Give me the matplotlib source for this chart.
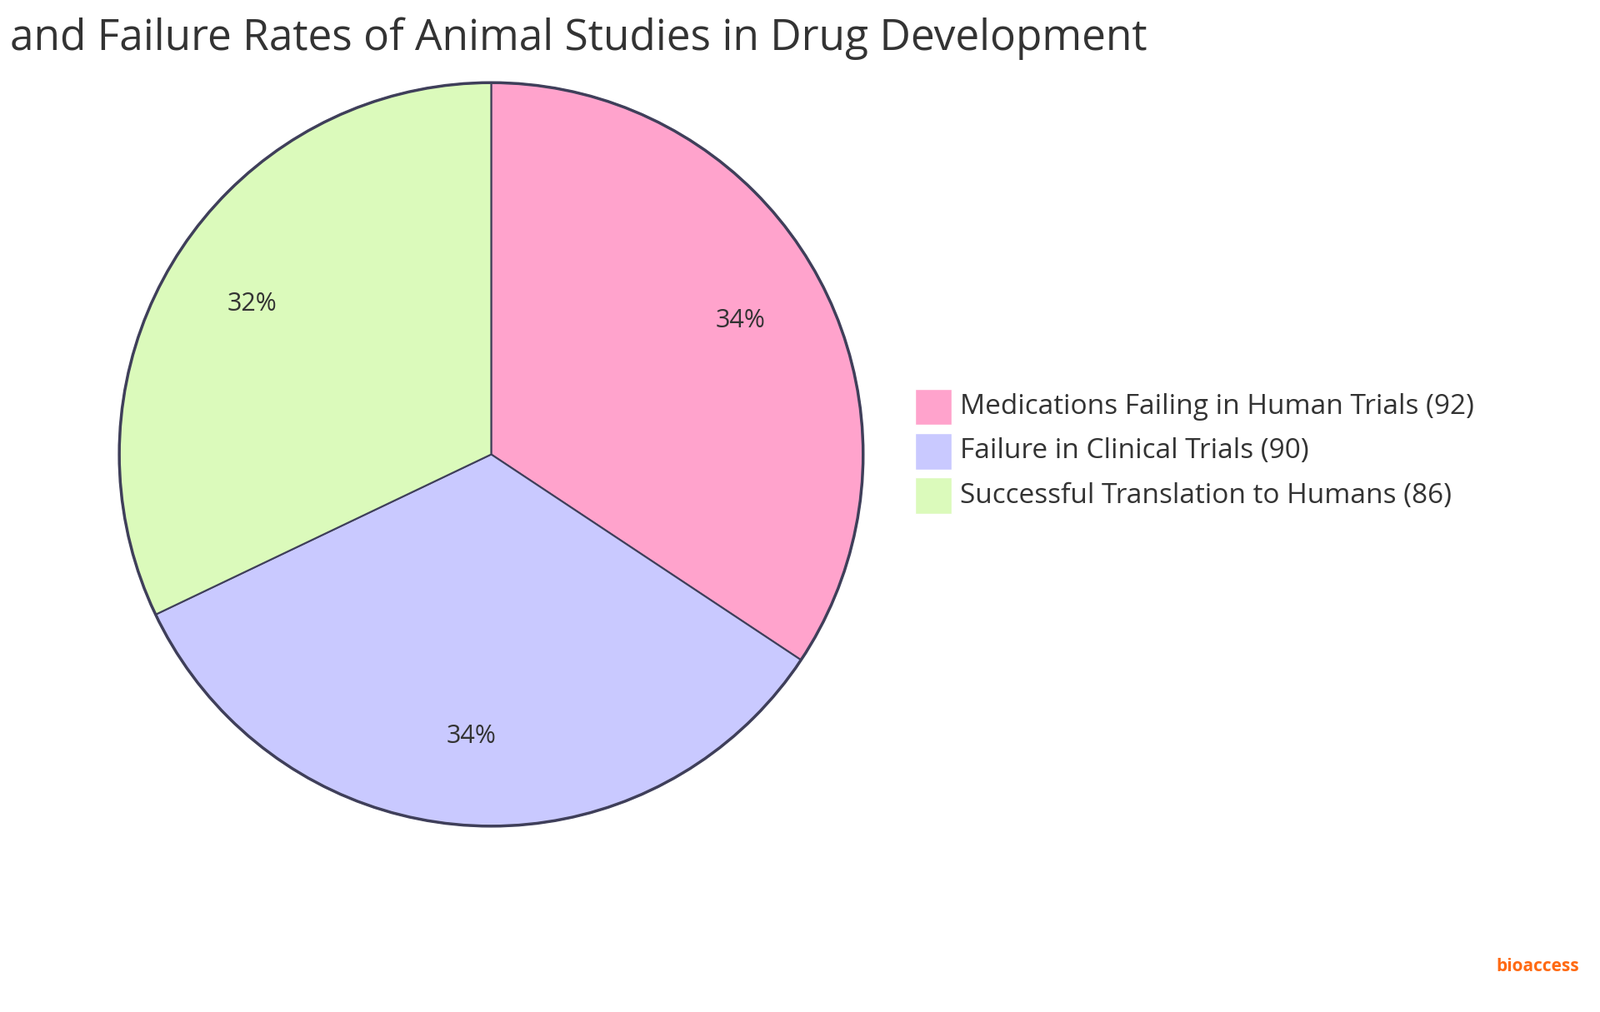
import matplotlib.pyplot as plt
from matplotlib.patches import Rectangle

plt.rcParams['font.family'] = 'Open Sans'

labels = ['Medications Failing in Human Trials', 'Failure in Clinical Trials',
          'Successful Translation to Humans']
values = [92, 90, 86]
colors = ['#ffa3cc', '#c9c9ff', '#dbfabb']
edge = '#3f3f5a'

fig = plt.figure(figsize=(19.2, 12.15), dpi=100)
ax = fig.add_axes([0.072, 0.18, 0.47, 0.742])
wedges, texts, autotexts = ax.pie(
    values, colors=colors, startangle=90, counterclock=False,
    autopct=lambda p: f'{p:.0f}%', pctdistance=0.76,
    wedgeprops=dict(edgecolor=edge, linewidth=1.5),
    textprops=dict(fontsize=22, color='#333333'))
ax.add_patch(plt.Circle((0, 0), 1, fill=False, edgecolor=edge, linewidth=2.5))
ax.set_xlim(-1.01, 1.01)
ax.set_ylim(-1.01, 1.01)
ax.set_aspect('equal')

# legend drawn by hand to match spacing
ys = [0.598, 0.554, 0.510]
for lab, v, c, y in zip(labels, values, colors, ys):
    fig.patches.append(Rectangle((0.572, y - 0.018), 0.023, 0.036, transform=fig.transFigure,
                                 facecolor=c, edgecolor='white', linewidth=1))
    fig.text(0.6, y, f'{lab} ({v})', fontsize=24, color='#333333', va='center')

fig.text(0.006, 0.962, 'and Failure Rates of Animal Studies in Drug Development',
         fontsize=37, color='#333333', va='center')

fig.text(0.987, 0.045, 'bioaccess', fontsize=15, fontweight='bold', color='#ff6a13',
         ha='right', va='center')

fig.savefig('out.png', dpi=100, facecolor='white')
